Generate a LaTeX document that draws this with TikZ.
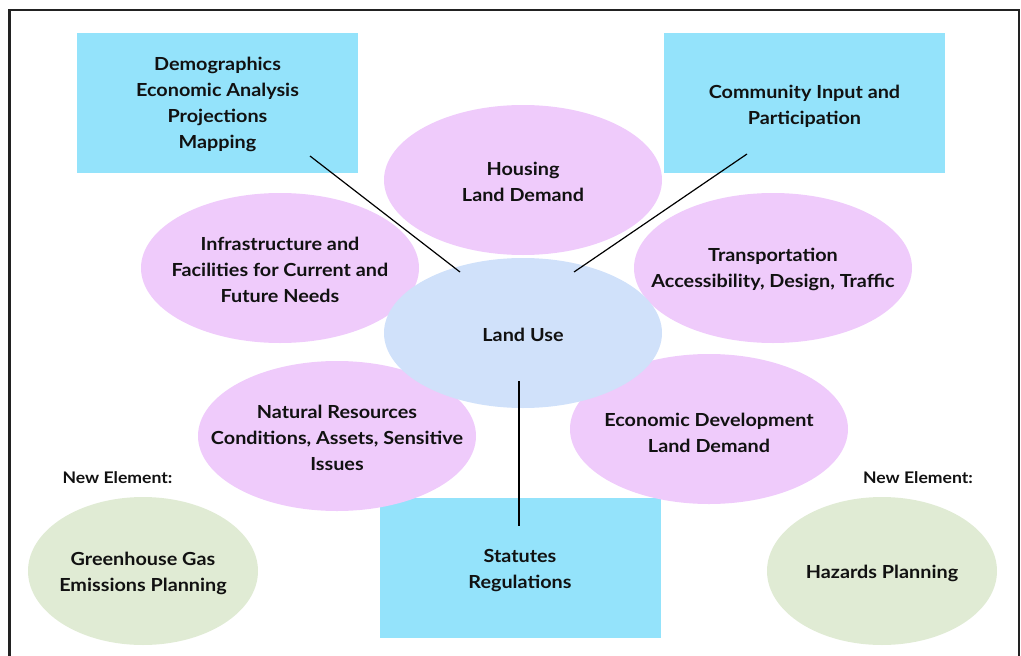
\documentclass[tikz,border=0pt]{standalone}
\usepackage{fontspec}
\setmainfont{Lato}[FakeStretch=1.1]
\usetikzlibrary{shapes.geometric}
\definecolor{boxcyan}{HTML}{94E3FB}
\definecolor{topicpink}{HTML}{EFCBFB}
\definecolor{coreblue}{HTML}{D0E1FA}
\definecolor{newgreen}{HTML}{E0EBD4}
\definecolor{inkblack}{HTML}{111111}
\definecolor{framegray}{HTML}{222222}
\begin{document}
\begin{tikzpicture}[x=1pt,y=-1pt,
  lbl/.style={font=\fontsize{18}{26}\selectfont\bfseries, align=center, text=inkblack, inner sep=0pt},
  tag/.style={font=\fontsize{16}{20}\selectfont\bfseries, text=inkblack, inner sep=0pt},
  infobox/.style={rectangle, fill=boxcyan, minimum width=281pt, minimum height=140pt, inner sep=0pt},
  topic/.style={ellipse, fill=topicpink, minimum width=278pt, minimum height=150pt, inner sep=0pt},
  core/.style={ellipse, fill=coreblue, minimum width=278pt, minimum height=150pt, inner sep=0pt},
  newel/.style={ellipse, fill=newgreen, minimum width=230pt, minimum height=148pt, inner sep=0pt},
  link/.style={draw=black, line width=1.2pt}]
\useasboundingbox (0,0) rectangle (1021,656);
\clip (0,0) rectangle (1021,656);

% outer frame (open at the bottom edge of the page)
\draw[framegray, line width=2.5pt] (9.5,700) -- (9.5,10) -- (1019,10) -- (1019,700);

% information boxes
\node[infobox] (data) at (217.5,103) {};
\node[lbl] (datat) at (217.5,104.5) {Demographics\\Economic Analysis\\Projections\\Mapping};
\node[infobox] (comm) at (804.5,103) {};
\node[lbl] (commt) at (804.5,106) {Community Input and\\Participation};
\node[infobox] (stat) at (520,568) {};
\node[lbl] (statt) at (520,570.5) {Statutes\\Regulations};

% topic ellipses
\node[topic] (hous) at (523,180) {};
\node[lbl] (houst) at (523,181.5) {Housing\\Land Demand};
\node[topic] (infra) at (280,268) {};
\node[lbl] (infrat) at (280,270) {Infrastructure and\\Facilities for Current and\\Future Needs};
\node[topic] (trans) at (773,268) {};
\node[lbl] (transt) at (773,269.5) {Transportation\\Accessibility, Design, Traffic};
\node[topic] (natr) at (337,436) {};
\node[lbl] (natrt) at (337,437.5) {Natural Resources\\Conditions, Assets, Sensitive\\Issues};
\node[topic] (econ) at (709,429) {};
\node[lbl] (econt) at (709,432.5) {Economic Development\\Land Demand};

% central ellipse
\node[core] (land) at (523,333) {};
\node[lbl] (landt) at (523,334.5) {Land Use};

% new elements
\node[tag] (newl) at (117.5,477.5) {New Element:};
\node[newel] (ghg) at (143,571) {};
\node[lbl] (ghgt) at (143,573.5) {Greenhouse Gas\\Emissions Planning};
\node[tag] (newr) at (918,477.5) {New Element:};
\node[newel] (haz) at (882,571) {};
\node[lbl] (hazt) at (882,573) {Hazards Planning};

% connectors
\coordinate (dataend) at (310,156);
\coordinate (landnw) at (460,272);
\coordinate (commend) at (747,154);
\coordinate (landne) at (574,272);
\coordinate (lands) at (519,381);
\coordinate (statend) at (519,526);
\draw[link] (dataend) -- (landnw);
\draw[link] (commend) -- (landne);
\draw[link] (lands) -- (statend);
\end{tikzpicture}
\end{document}
